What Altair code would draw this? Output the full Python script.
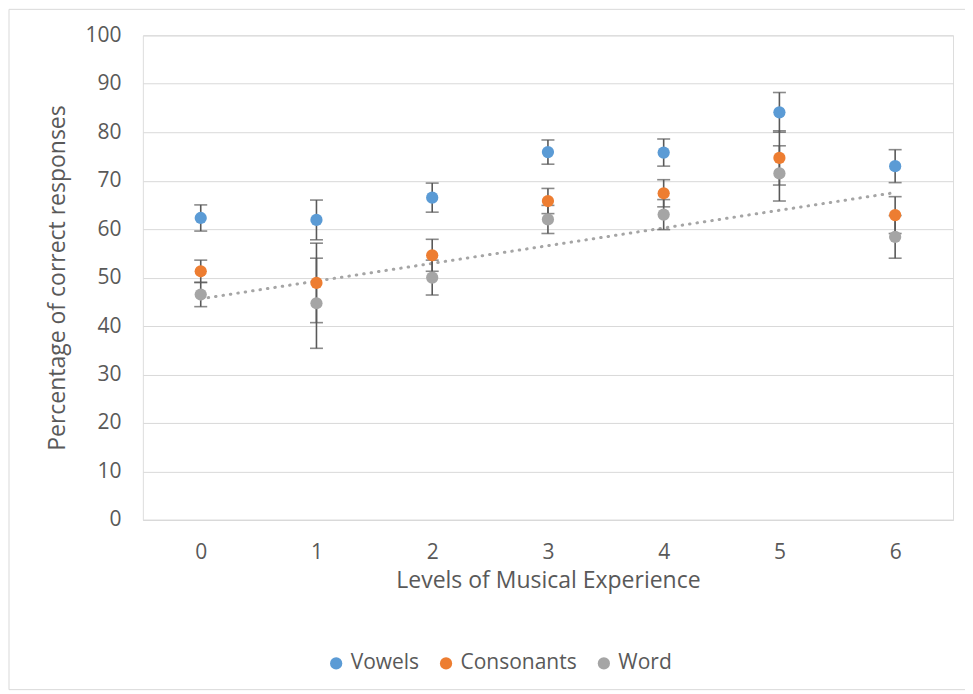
import altair as alt
import pandas as pd

levels = [0, 1, 2, 3, 4, 5, 6]
series_names = ["Vowels", "Consonants", "Word"]
vowels = [62.3, 61.9, 66.5, 75.9, 75.8, 84.1, 73.0]
vowels_err = [2.7, 4.1, 3.0, 2.5, 2.8, 4.1, 3.4]
consonants = [51.3, 48.9, 54.6, 65.8, 67.4, 74.7, 62.9]
consonants_err = [2.3, 8.2, 3.3, 2.6, 2.8, 5.6, 3.8]
word = [46.5, 44.7, 50.0, 62.0, 63.0, 71.5, 58.4]
word_err = [2.5, 9.3, 3.6, 2.9, 3.1, 5.7, 4.4]
colors = ["#5B9BD5", "#ED7D31", "#A5A5A5"]

rows = []
for name, vals, errs in [("Vowels", vowels, vowels_err),
                         ("Consonants", consonants, consonants_err),
                         ("Word", word, word_err)]:
    for lv, v, e in zip(levels, vals, errs):
        rows.append({"level": lv, "series": name, "value": v,
                     "lo": v - e, "hi": v + e})
df = pd.DataFrame(rows)

FONT = "Open Sans"
TXT = "#595959"
W, H = 811, 485

xscale = alt.Scale(domain=[-0.5, 6.5], nice=False, zero=False)
yscale = alt.Scale(domain=[0, 100], nice=False)

xax = alt.Axis(values=levels, format="d", grid=False, ticks=False, domain=True,
               domainColor="#D9D9D9", domainWidth=1, labelPadding=22, labelFontSize=21,
               labelColor=TXT, labelFont=FONT,
               title="Levels of Musical Experience", titleFontSize=23, titleFont=FONT,
               titleColor=TXT, titleFontWeight="normal", titlePadding=7)
yax = alt.Axis(values=list(range(0, 101, 10)), grid=True, gridColor="#D9D9D9", ticks=False,
               domain=False, labelPadding=22, labelFontSize=21, labelColor=TXT, labelFont=FONT,
               title="Percentage of correct responses", titleFontSize=23, titleFont=FONT,
               titleColor=TXT, titleFontWeight="normal", titlePadding=15)

base = alt.Chart(df)

frame = alt.Chart(pd.DataFrame({"a": [0]})).mark_rect(
    fill=None, stroke="#D9D9D9", strokeWidth=1
).encode(x=alt.value(-134), x2=alt.value(W + 15), y=alt.value(-26), y2=alt.value(H + 170))

bars = base.mark_rule(color="#595959", strokeWidth=1.6).encode(
    x=alt.X("level:Q", scale=xscale, axis=xax),
    y=alt.Y("lo:Q", scale=yscale, axis=yax),
    y2="hi:Q",
)
cap_lo = base.mark_tick(color="#595959", thickness=1.6, size=13, orient="horizontal").encode(
    x=alt.X("level:Q", scale=xscale), y=alt.Y("lo:Q", scale=yscale))
cap_hi = base.mark_tick(color="#595959", thickness=1.6, size=13, orient="horizontal").encode(
    x=alt.X("level:Q", scale=xscale), y=alt.Y("hi:Q", scale=yscale))

trend = base.transform_filter(alt.datum.series == "Word").transform_regression(
    "level", "value").mark_line(
    color="#A5A5A5", strokeWidth=3, strokeDash=[0.5, 7], strokeCap="round"
).encode(x=alt.X("level:Q", scale=xscale), y=alt.Y("value:Q", scale=yscale))

points = base.mark_circle(size=150, opacity=1).encode(
    x=alt.X("level:Q", scale=xscale),
    y=alt.Y("value:Q", scale=yscale),
    color=alt.Color("series:N", scale=alt.Scale(domain=series_names, range=colors),
                    sort=series_names,
                    legend=alt.Legend(title=None, orient="none", direction="horizontal",
                                      legendX=183, legendY=618, symbolType="circle",
                                      symbolSize=150, labelFontSize=21, labelFont=FONT,
                                      labelColor=TXT, columnPadding=16, symbolStrokeWidth=0,
                                      labelOffset=4)),
)

chart = alt.layer(frame, trend, bars, cap_lo, cap_hi, points).properties(
    width=W, height=H,
    autosize=alt.AutoSizeParams(type="none"),
    padding={"left": 135, "top": 27, "right": 12, "bottom": 172},
).configure_view(stroke=None).configure(background="white")

chart.save("out.html", embed_options={"renderer": "svg", "actions": False})
